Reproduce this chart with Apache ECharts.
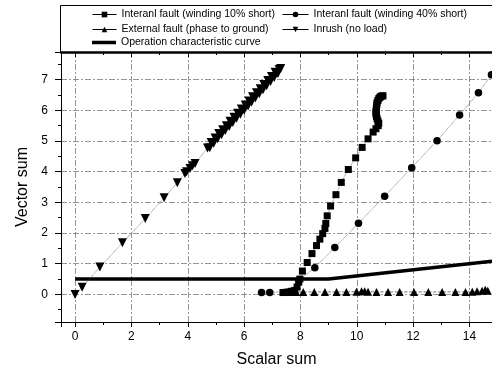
<!DOCTYPE html>
<html>
<head>
<meta charset="utf-8">
<script src="https://cdn.jsdelivr.net/npm/echarts@6/dist/echarts.min.js"></script>
<style>
html,body{margin:0;padding:0;background:#fff;}
#chart{width:492px;height:373px;}
</style>
</head>
<body>
<div id="chart"></div>
<script>
// ---- data ----
var seriesNames = [
  'Interanl fault (winding 10% short)',
  'Interanl fault (winding 40% short)',
  'External fault (phase to ground)',
  'Inrush (no load)',
  'Operation characteristic curve'
];
var xTitle = 'Scalar sum';
var yTitle = 'Vector sum';

var fault10 = [
  [7.38,0.06],[7.5,0.07],[7.6,0.08],[7.68,0.1],[7.8,0.13],[7.88,0.24],[7.94,0.4],[7.98,0.5],
  [8.07,0.76],[8.24,1.04],[8.41,1.33],[8.57,1.59],[8.69,1.8],[8.79,1.98],[8.87,2.15],[8.9,2.31],
  [8.95,2.56],[9.07,2.88],[9.26,3.25],[9.45,3.65],[9.7,4.07],[9.96,4.45],[10.19,4.79],[10.4,5.07],
  [10.58,5.29],[10.68,5.4],[10.76,5.5],[10.78,5.58],[10.75,5.65],[10.72,5.73],[10.7,5.8],
  [10.68,5.88],[10.68,5.95],[10.69,6.03],[10.7,6.1],[10.71,6.18],[10.72,6.25],[10.75,6.32],
  [10.78,6.38],[10.82,6.42],[10.85,6.45],[10.9,6.47],[10.93,6.47]
];
var fault40 = [
  [6.62,0.06],[6.91,0.06],[7.7,0.1],[7.94,0.46],[8.51,0.87],[9.22,1.53],[10.06,2.32],[10.99,3.2],
  [11.95,4.13],[12.85,5.01],[13.65,5.85],[14.32,6.57],[14.78,7.16]
];
var external = [
  [7.6,0.08],[7.85,0.08],[8.1,0.08],[8.49,0.08],[8.87,0.08],[9.28,0.08],[9.63,0.08],[9.99,0.09],
  [10.17,0.1],[10.28,0.1],[10.4,0.09],[10.7,0.08],[11.11,0.08],[11.52,0.08],[12.03,0.08],
  [12.54,0.08],[13.03,0.08],[13.5,0.08],[13.86,0.08],[14.1,0.09],[14.27,0.1],[14.45,0.12],
  [14.56,0.15],[14.65,0.12]
];
var inrush = [
  [0,0],[0.25,0.23],[0.88,0.89],[1.68,1.68],[2.49,2.47],[3.16,3.15],[3.63,3.64],[3.9,3.94],
  [3.96,4.0],[4.08,4.1],[4.17,4.19],[4.26,4.27],
  [4.7,4.77],[4.78,4.78],[4.83,4.95],[4.92,4.93],[4.97,5.1],[5.06,5.07],[5.1,5.24],[5.2,5.2],
  [5.24,5.37],[5.33,5.34],[5.37,5.5],[5.47,5.47],[5.5,5.64],[5.6,5.6],[5.64,5.77],[5.73,5.74],
  [5.77,5.9],[5.87,5.87],[5.9,6.04],[6.0,6.0],[6.04,6.17],[6.14,6.14],[6.17,6.3],[6.27,6.27],
  [6.3,6.44],[6.4,6.4],[6.44,6.57],[6.54,6.54],[6.57,6.7],[6.67,6.67],[6.7,6.84],[6.8,6.8],
  [6.84,6.97],[6.94,6.94],[6.97,7.1],[7.07,7.07],[7.1,7.24],[7.2,7.2],[7.24,7.33],[7.3,7.36]
];
var operation = [[0,0.5],[9,0.5],[14.8,1.08]];

var xMin = -0.5, xMax = 14.8, xStep = 2;
var yMin = -0.9, yMax = 7.9, yStep = 1;

// ---- chart ----
var chart = echarts.init(document.getElementById('chart'), null, {renderer:'canvas'});
var FONT = 'Liberation Sans, Arial, sans-serif';
var gridLine = {show:true, lineStyle:{color:'#7a7a7a', width:0.8, type:[6,2,2,2]}};
var thinLine = {color:'#555', width:0.8, type:'dotted'};

function legendAt(name, left, top, w, extra) {
  var l = {
    data:[name], left:left, top:top, itemWidth:w, itemHeight:7, itemGap:0,
    selectedMode:false, padding:0,
    lineStyle:{type:'solid', width:1, color:'#000'},
    textStyle:{fontSize:10.5, color:'#000', fontFamily:FONT}
  };
  if (extra) for (var k in extra) l[k] = extra[k];
  return l;
}

var option = {
  animation:false,
  backgroundColor:'#fff',
  textStyle:{fontFamily:FONT},
  grid:{left:61, right:0, top:52, bottom:51, containLabel:false},
  legend:[
    legendAt(seriesNames[0], 92, 9, 24),
    legendAt(seriesNames[1], 282, 9, 26),
    legendAt(seriesNames[2], 92, 24, 24),
    legendAt(seriesNames[3], 282, 24, 26),
    legendAt({name:seriesNames[4], icon:'rect'}, 92, 37, 24, {itemHeight:3.5, data:[{name:seriesNames[4], icon:'rect'}]})
  ],
  graphic:[{
    type:'rect', silent:true,
    shape:{x:60.5, y:5.5, width:440, height:47},
    style:{fill:'none', stroke:'#000', lineWidth:1}
  }],
  xAxis:[{
    type:'value', position:'bottom', min:xMin, max:xMax, minInterval:xStep, maxInterval:xStep,
    axisLine:{show:true, onZero:false, lineStyle:{color:'#000', width:1}},
    axisTick:{show:true, inside:false, length:5, lineStyle:{color:'#000'}},
    minorTick:{show:true, splitNumber:2, length:3, lineStyle:{color:'#000'}},
    splitLine:gridLine,
    axisLabel:{show:true, color:'#000', fontSize:12, margin:9, showMinLabel:false, showMaxLabel:false, fontFamily:FONT},
    name:xTitle, nameLocation:'middle', nameGap:30,
    nameTextStyle:{fontSize:16, color:'#000', fontFamily:FONT}
  },{
    type:'value', position:'top', min:xMin, max:xMax, minInterval:xStep, maxInterval:xStep,
    axisLine:{show:true, onZero:false, lineStyle:{color:'#000', width:2.5}},
    axisTick:{show:true, inside:true, length:5, lineStyle:{color:'#000'}},
    minorTick:{show:true, splitNumber:2, length:3, lineStyle:{color:'#000'}},
    splitLine:{show:false}, axisLabel:{show:false}
  }],
  yAxis:[{
    type:'value', min:yMin, max:yMax, minInterval:yStep, maxInterval:yStep,
    axisLine:{show:true, onZero:false, lineStyle:{color:'#000', width:1}},
    axisTick:{show:true, inside:false, length:6, lineStyle:{color:'#000'}},
    minorTick:{show:true, splitNumber:2, length:3, lineStyle:{color:'#000'}},
    splitLine:gridLine,
    axisLabel:{show:true, color:'#000', fontSize:12, margin:13, showMinLabel:false, showMaxLabel:false, fontFamily:FONT},
    name:yTitle, nameLocation:'middle', nameGap:27,
    nameTextStyle:{fontSize:16, color:'#000', fontFamily:FONT}
  }],
  series:[
    {name:seriesNames[0], type:'line', data:fault10, symbol:'rect', symbolSize:7,
     itemStyle:{color:'#000'}, lineStyle:thinLine, z:4},
    {name:seriesNames[1], type:'line', data:fault40, symbol:'circle', symbolSize:7.5,
     itemStyle:{color:'#000'}, lineStyle:thinLine, z:4},
    {name:seriesNames[2], type:'line', data:external, symbol:'triangle', symbolSize:8,
     itemStyle:{color:'#000'}, lineStyle:{color:'#555', width:0.8, type:'dashed'}, z:4},
    {name:seriesNames[3], type:'line', data:inrush, symbol:'triangle', symbolRotate:180, symbolSize:9,
     itemStyle:{color:'#000'}, lineStyle:thinLine, z:4},
    {name:seriesNames[4], type:'line', data:operation, symbol:'none', showSymbol:false,
     itemStyle:{color:'#000'}, lineStyle:{color:'#000', width:3.5}, z:3}
  ]
};
chart.setOption(option);
</script>
</body>
</html>
